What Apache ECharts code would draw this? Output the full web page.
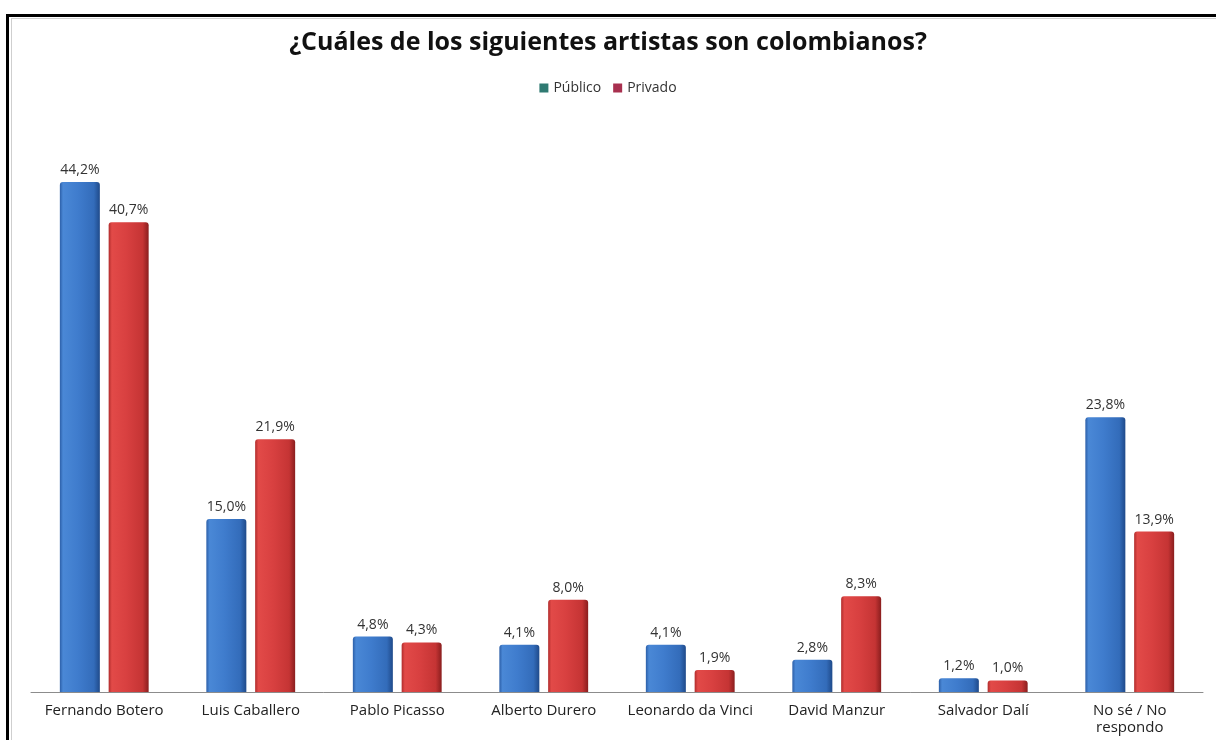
<!DOCTYPE html>
<html>
<head>
<meta charset="utf-8">
<script src="https://cdn.jsdelivr.net/npm/echarts@6/dist/echarts.min.js"></script>
<style>
  html, body { margin: 0; padding: 0; background: #fff; }
  body { width: 1216px; height: 740px; position: relative; overflow: hidden; }
  #frame { position: absolute; left: 6px; top: 14px; width: 1400px; height: 900px; border: 3px solid #000; box-sizing: border-box; }
  #inner { position: absolute; left: 11px; top: 18px; width: 1400px; height: 900px; border: 1px solid #cfcfcf; box-sizing: border-box; }
  #chart { position: absolute; left: 0; top: 0; width: 1216px; height: 740px; }
</style>
</head>
<body>
<div id="frame"></div>
<div id="inner"></div>
<div id="chart"></div>
<script>
const titleText = '¿Cuáles de los siguientes artistas son colombianos?';
const categories = ['Fernando Botero', 'Luis Caballero', 'Pablo Picasso', 'Alberto Durero', 'Leonardo da Vinci', 'David Manzur', 'Salvador Dalí', 'No sé / No\nrespondo'];
const seriesNames = ['Público', 'Privado'];
const publico = [44.2, 15.0, 4.8, 4.1, 4.1, 2.8, 1.2, 23.8];
const privado = [40.7, 21.9, 4.3, 8.0, 1.9, 8.3, 1.0, 13.9];

const FONT = '"Open Sans", "DejaVu Sans", sans-serif';

function grad(stops) {
  return new echarts.graphic.LinearGradient(0, 0, 1, 0, stops.map(c => ({ offset: c[0], color: c[1] })));
}
const blueGrad = grad([[0, '#2c5fa8'], [0.08, '#4a88d6'], [0.45, '#3f7ccd'], [0.85, '#336cba'], [1, '#1f4a8a']]);
const redGrad = grad([[0, '#b02c2c'], [0.08, '#e24a48'], [0.45, '#d84040'], [0.85, '#c53434'], [1, '#8a1e1e']]);

const labelOpt = {
  show: true,
  position: 'top',
  distance: 5,
  color: '#333',
  fontFamily: FONT,
  fontSize: 14,
  formatter: p => p.value.toFixed(1).replace('.', ',') + '%'
};

const chart = echarts.init(document.getElementById('chart'), null, { renderer: 'canvas' });
chart.setOption({
  backgroundColor: 'transparent',
  animation: false,
  title: {
    text: titleText,
    left: 'center',
    top: 25,
    textStyle: { fontFamily: FONT, fontWeight: 'bold', fontSize: 25, color: '#111' }
  },
  legend: {
    top: 76,
    left: 'center',
    icon: 'rect',
    itemWidth: 9,
    itemHeight: 9,
    itemGap: 12,
    textStyle: { fontFamily: FONT, fontSize: 14, color: '#333' },
    data: [
      { name: seriesNames[0], itemStyle: { color: '#2f7a72' } },
      { name: seriesNames[1], itemStyle: { color: '#a8304f' } }
    ]
  },
  grid: { left: 31, right: 13, top: 115, bottom: 48, containLabel: false },
  xAxis: {
    type: 'category',
    data: categories,
    axisLine: { show: true, lineStyle: { color: '#8c8c8c', width: 1 } },
    axisTick: { show: false },
    axisLabel: {
      color: '#222',
      fontFamily: FONT,
      fontSize: 15,
      margin: 10,
      lineHeight: 17,
      interval: 0
    }
  },
  yAxis: {
    type: 'value',
    min: 0,
    max: 50,
    show: false,
    splitLine: { show: false }
  },
  series: [
    {
      name: seriesNames[0],
      type: 'bar',
      data: publico,
      barWidth: 40,
      barGap: '22%',
      itemStyle: { color: blueGrad, borderRadius: [3, 3, 0, 0] },
      label: labelOpt
    },
    {
      name: seriesNames[1],
      type: 'bar',
      data: privado,
      barWidth: 40,
      barGap: '22%',
      itemStyle: { color: redGrad, borderRadius: [3, 3, 0, 0] },
      label: labelOpt
    }
  ]
});
</script>
</body>
</html>
